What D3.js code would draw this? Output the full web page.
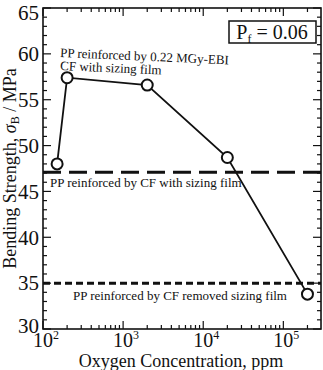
<!DOCTYPE html>
<html><head><meta charset="utf-8">
<script src="https://cdn.jsdelivr.net/npm/d3@7"></script>
</head><body style="margin:0">
<script>
const oxygen = [150, 200, 2000, 20000, 200000];
const strength = [48.0, 57.4, 56.6, 48.7, 33.8];
const refWithSizing = 47.1;
const refRemoved = 35.0;
const yTicks = [30, 35, 40, 45, 50, 55, 60, 65];
const xTickExps = [2, 3, 4, 5];

const W = 323, H = 370;
const m = {l: 43, r: 2, t: 8, b: 41};
const svg = d3.select("body").append("svg").attr("width", W).attr("height", H);
const x = d3.scaleLog().domain([100, Math.pow(10, 5.47)]).range([m.l, W - m.r]);
const y = d3.scaleLinear().domain([30, 65]).range([H - m.b, m.t]);
const x0 = m.l, x1 = W - m.r, y0 = H - m.b, y1 = m.t;

const g = svg.append("g").attr("stroke", "#111").attr("stroke-width", 1.2);
const xMinor = [];
for (let e = 2; e <= 5; e++) for (let k = 1; k <= 9; k++) { const v = k * Math.pow(10, e); if (v <= x.domain()[1]) xMinor.push(v); }
xMinor.forEach(v => {
  const L = (Math.abs(Math.log10(v) % 1) < 1e-9) ? 8 : 4;
  g.append("line").attr("x1", x(v)).attr("x2", x(v)).attr("y1", y0).attr("y2", y0 - L);
  g.append("line").attr("x1", x(v)).attr("x2", x(v)).attr("y1", y1).attr("y2", y1 + L);
});
d3.range(30, 66, 1).forEach(v => {
  const L = (v % 5 === 0) ? 8 : 4;
  g.append("line").attr("x1", x0).attr("x2", x0 + L).attr("y1", y(v)).attr("y2", y(v));
  g.append("line").attr("x1", x1).attr("x2", x1 - L).attr("y1", y(v)).attr("y2", y(v));
});
svg.append("rect").attr("x", x0).attr("y", y1).attr("width", x1 - x0).attr("height", y0 - y1)
  .attr("fill", "none").attr("stroke", "#111").attr("stroke-width", 1.6);

const T = (sel) => sel.attr("font-family", "Liberation Serif").style("font-family", "'Liberation Serif'").attr("fill", "#111");

svg.selectAll(".yt").data(yTicks).enter().append("text")
  .attr("x", x0 - 4).attr("y", d => y(d) - (d === 30 ? 3 : 0)).attr("dy", d => d === 65 ? "0.55em" : "0.35em").attr("text-anchor", "end")
  .attr("font-size", 21).attr("font-family", "Liberation Serif").style("font-family", "'Liberation Serif'").attr("fill", "#111").text(d => d);
xTickExps.forEach(e => {
  const t = T(svg.append("text")).attr("x", x(Math.pow(10, e)) + 3).attr("y", y0 + 18).attr("text-anchor", "middle").attr("font-size", 20);
  t.append("tspan").text("10");
  t.append("tspan").attr("dy", -8).attr("font-size", 12).text(e);
});
T(svg.append("text")).attr("x", 181).attr("y", 367).attr("text-anchor", "middle").attr("font-size", 18).text("Oxygen Concentration, ppm");
const yl = T(svg.append("text")).attr("transform", `translate(16,${(y0 + y1) / 2}) rotate(-90)`).attr("text-anchor", "middle").attr("font-size", 18);
yl.append("tspan").text("Bending Strength, ");
yl.append("tspan").attr("font-style", "italic").text("σ");
yl.append("tspan").attr("font-size", 12).attr("dy", 3).text("B");
yl.append("tspan").attr("dy", -3).text(" / MPa");

svg.append("line").attr("x1", x0).attr("x2", x1).attr("y1", y(refWithSizing)).attr("y2", y(refWithSizing))
  .attr("stroke", "#111").attr("stroke-width", 3).attr("stroke-dasharray", "18,8");
svg.append("line").attr("x1", x0).attr("x2", x1).attr("y1", y(refRemoved)).attr("y2", y(refRemoved))
  .attr("stroke", "#111").attr("stroke-width", 3).attr("stroke-dasharray", "7,4");

const pts = oxygen.map((o, i) => [o, strength[i]]);
svg.append("path").datum(pts).attr("fill", "none").attr("stroke", "#111").attr("stroke-width", 1.8)
  .attr("d", d3.line().x(d => x(d[0])).y(d => y(d[1])));
svg.selectAll(".pt").data(pts).enter().append("circle")
  .attr("cx", d => x(d[0])).attr("cy", d => y(d[1])).attr("r", 5.5)
  .attr("fill", "#fff").attr("stroke", "#111").attr("stroke-width", 2);

T(svg.append("text")).attr("x", 60).attr("y", 57).attr("font-size", 13).attr("transform", "rotate(2.5,60,57)").text("PP reinforced by 0.22 MGy-EBI");
T(svg.append("text")).attr("x", 60).attr("y", 70).attr("font-size", 13).attr("transform", "rotate(2.5,60,70)").text("CF with sizing film");
T(svg.append("text")).attr("x", 50).attr("y", 187).attr("font-size", 13).text("PP reinforced by CF with sizing film");
T(svg.append("text")).attr("x", 73).attr("y", 300).attr("font-size", 13).text("PP reinforced by CF removed sizing film");

svg.append("rect").attr("x", 229).attr("y", 21).attr("width", 87).attr("height", 22).attr("fill", "#fff").attr("stroke", "#111").attr("stroke-width", 1.5);
const pf = T(svg.append("text")).attr("x", 272).attr("y", 39).attr("text-anchor", "middle").attr("font-size", 20);
pf.append("tspan").text("P");
pf.append("tspan").attr("font-size", 12).attr("dy", 4).text("f");
pf.append("tspan").attr("dy", -4).text(" = 0.06");
</script>
</body></html>
